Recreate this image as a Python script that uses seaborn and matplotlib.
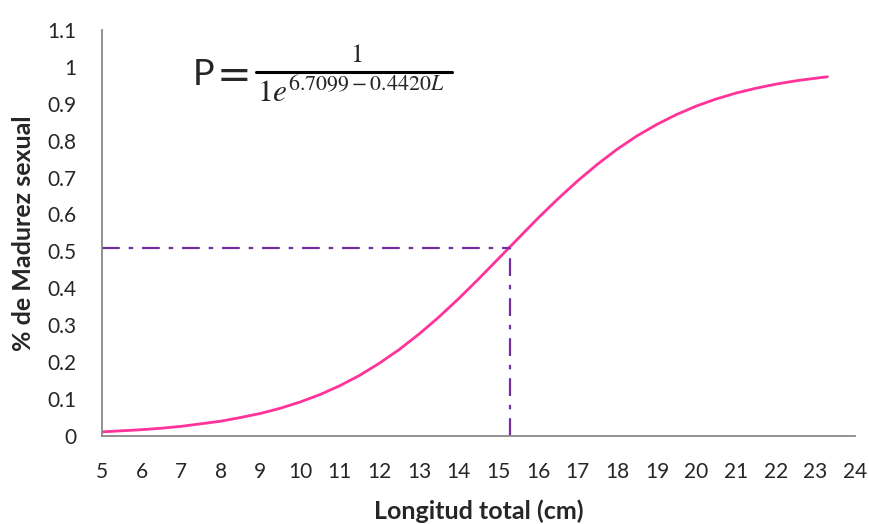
import matplotlib
matplotlib.use("Agg")
import matplotlib.pyplot as plt
from matplotlib.lines import Line2D
import seaborn as sns
import pandas as pd

# Talla (cm) y proporción de individuos sexualmente maduros
longitud = [5, 5.5, 6, 6.5, 7, 7.5, 8, 8.5, 9, 9.5, 10, 10.5, 11, 11.5, 12, 12.5,
            13, 13.5, 14, 14.5, 15, 15.5, 16, 16.5, 17, 17.5, 18, 18.5, 19, 19.5,
            20, 20.5, 21, 21.5, 22, 22.5, 23, 23.3]
madurez = [0.011, 0.014, 0.017, 0.021, 0.026, 0.033, 0.040, 0.050, 0.061, 0.075,
           0.092, 0.112, 0.136, 0.164, 0.197, 0.234, 0.276, 0.322, 0.372, 0.425,
           0.480, 0.535, 0.590, 0.642, 0.691, 0.736, 0.777, 0.813, 0.844, 0.871,
           0.894, 0.913, 0.929, 0.942, 0.953, 0.962, 0.969, 0.973]

# Talla de primera madurez (L50)
l50 = 15.3
p50 = 0.51

x_ticks = list(range(5, 25))
y_ticks = [0, 0.1, 0.2, 0.3, 0.4, 0.5, 0.6, 0.7, 0.8, 0.9, 1, 1.1]
y_labels = ["0", "0.1", "0.2", "0.3", "0.4", "0.5", "0.6", "0.7", "0.8", "0.9", "1", "1.1"]

sns.set_theme(style="white")
plt.rcParams["font.family"] = ["Lato", "DejaVu Sans"]
plt.rcParams["mathtext.fontset"] = "stix"

df = pd.DataFrame({"Longitud": longitud, "Madurez": madurez})

fig = plt.figure(figsize=(8.7, 5.24), dpi=100)
ax = fig.add_axes([0.117, 0.168, 0.866, 0.775])

sns.lineplot(data=df, x="Longitud", y="Madurez", ax=ax, color="#FF3399", linewidth=2)

dashdot = (0, (8, 4, 2, 4))
ax.plot([5, l50], [p50, p50], color="#7030A0", linestyle=dashdot, linewidth=1.6)
ax.plot([l50, l50], [0, p50], color="#7030A0", linestyle=dashdot, linewidth=1.6)

ax.set_xlim(5, 24)
ax.set_ylim(0, 1.1)
ax.set_xticks(x_ticks)
ax.set_xticklabels([str(t) for t in x_ticks], fontsize=15)
ax.set_yticks(y_ticks)
ax.set_yticklabels(y_labels, fontsize=15)
ax.tick_params(axis="x", pad=19, length=0)
ax.tick_params(axis="y", pad=18, length=0)

for side in ["top", "right"]:
    ax.spines[side].set_visible(False)
for side in ["left", "bottom"]:
    ax.spines[side].set_color("#888888")
    ax.spines[side].set_linewidth(1.3)

ax.set_xlabel("Longitud total (cm)", fontsize=18, fontweight="bold", labelpad=12)
ax.set_ylabel("% de Madurez sexual", fontsize=18, fontweight="bold", labelpad=9)

# Ecuación del modelo logístico
fig.text(0.222, 0.838, "P", fontsize=26, va="baseline", ha="left")
fig.text(0.249, 0.832, "=", fontsize=30, va="baseline", ha="left", family="DejaVu Sans")
fig.text(0.409, 0.882, r"$1$", fontsize=19, va="baseline", ha="center")
fig.add_artist(Line2D([0.294, 0.520], [0.863, 0.863], color="black", linewidth=2.2,
                      transform=fig.transFigure))
fig.text(0.295, 0.806, r"$1e^{6.7099-0.4420L}$", fontsize=22.5, va="baseline", ha="left")

fig.savefig("out.png", dpi=100)
